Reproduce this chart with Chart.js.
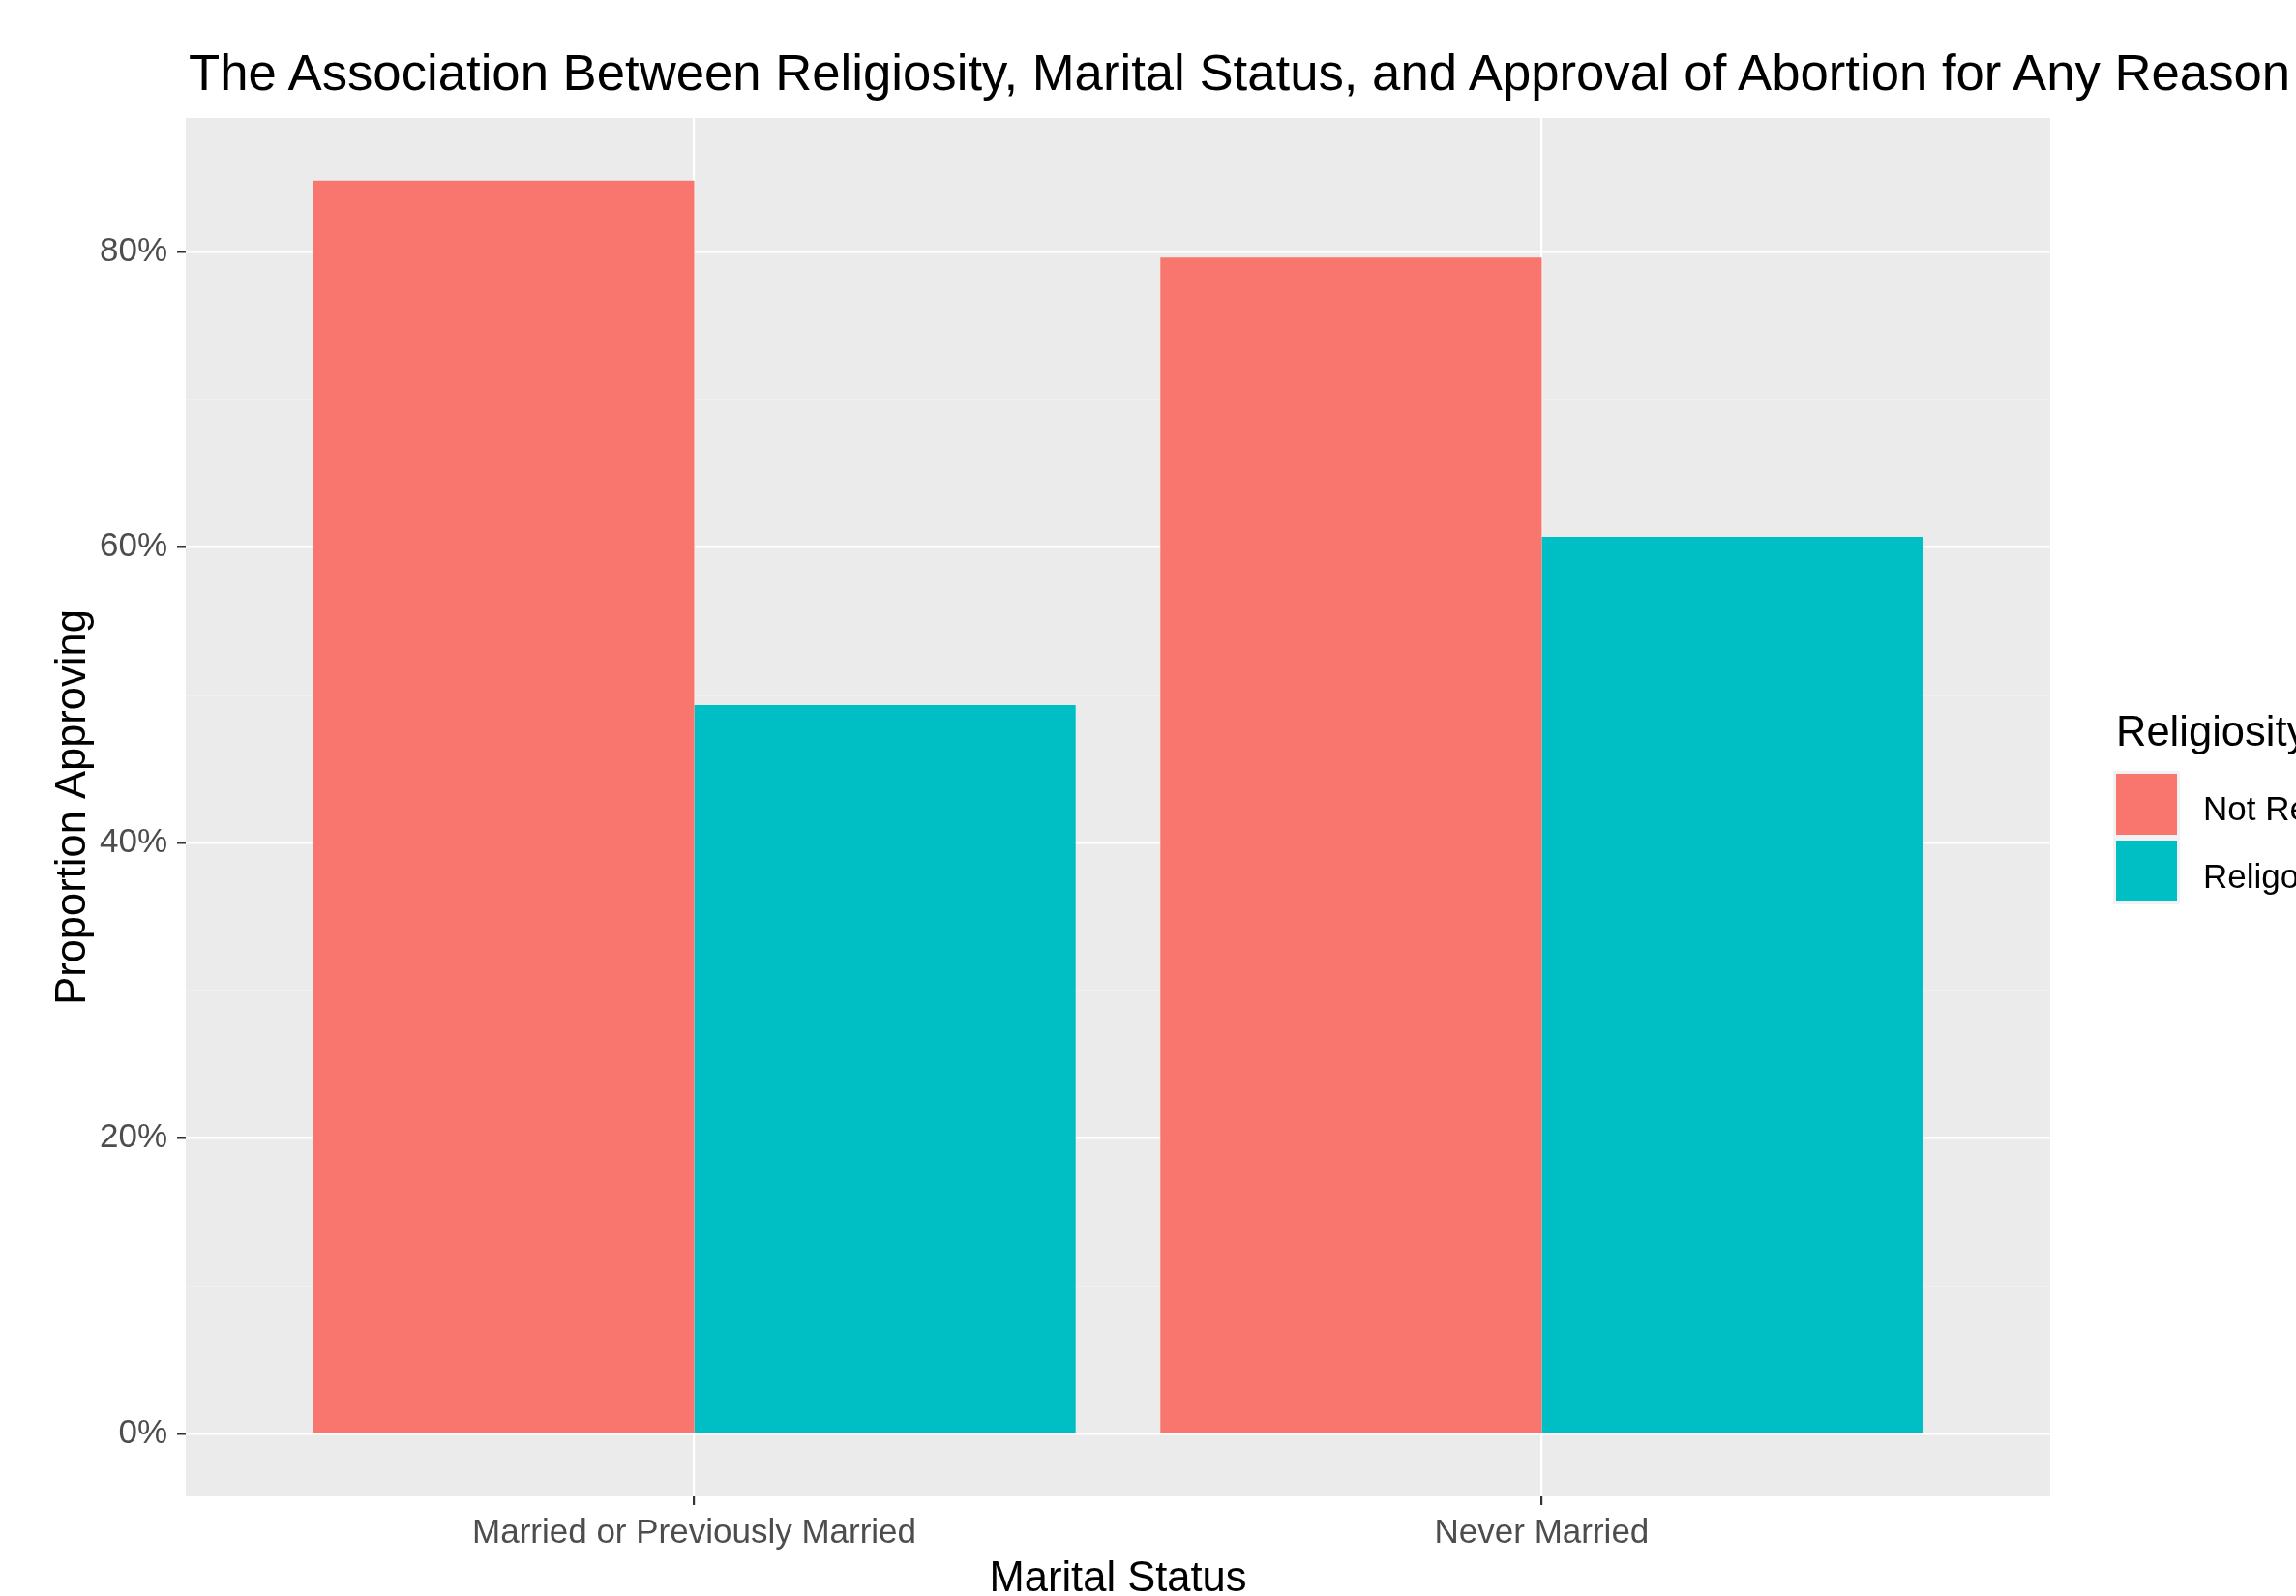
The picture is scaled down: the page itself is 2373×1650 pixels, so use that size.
<!DOCTYPE html>
<html><head><meta charset="utf-8">
<script src="https://cdn.jsdelivr.net/npm/chart.js@4.4.1/dist/chart.umd.min.js"></script>
<style>
html,body{margin:0;padding:0;background:#fff;overflow:hidden;width:2373px;height:1650px;}
#wrap{position:relative;width:2373px;height:1650px;overflow:hidden;}
canvas{position:absolute;left:0;top:0;}
.t{position:absolute;white-space:nowrap;font-family:"Liberation Sans",Arial,sans-serif;color:#000;}
.key{position:absolute;width:69px;height:69px;background:#F2F2F2;}
.key i{position:absolute;left:3px;top:3px;width:63px;height:63px;}
</style></head><body>
<div id="wrap">
<canvas id="c" width="2373" height="1650"></canvas>
<div id="title" class="t" style="left:195px;top:49px;font-size:52.7px;line-height:52px;"></div>
<div id="legend"></div>
</div>
<script>
const chartTitle = "The Association Between Religiosity, Marital Status, and Approval of Abortion for Any Reason";
const categories = ["Married or Previously Married", "Never Married"];
const seriesNames = ["Not Religous", "Religous"];
const notReligious = [84.8, 79.6];
const religious = [49.3, 60.7];
const yTicks = [0, 10, 20, 30, 40, 50, 60, 70, 80];
const xTitle = "Marital Status";
const yTitle = "Proportion Approving";
const legendTitle = "Religiosity";
const colors = ["#F8766D", "#00BFC4"];

const FONT = '"Liberation Sans", Arial, sans-serif';
document.getElementById('title').textContent = chartTitle;

const toPoints = vals => categories.map((c, i) => ({x: i + 1, y: vals[i]}));
const seriesValues = [notReligious, religious];

const bgPlugin = {
  id: 'panelBg',
  beforeDraw(chart) {
    const a = chart.chartArea, ctx = chart.ctx;
    ctx.save();
    ctx.fillStyle = '#EBEBEB';
    ctx.fillRect(a.left, a.top, a.right - a.left, a.bottom - a.top);
    ctx.restore();
  }
};

const isMajor = c => c.tick && c.tick.value % 20 === 0;

new Chart(document.getElementById('c'), {
  type: 'bar',
  data: {
    datasets: seriesNames.map((n, k) => ({
      label: n, data: toPoints(seriesValues[k]), backgroundColor: colors[k], borderWidth: 0,
      categoryPercentage: 0.9, barPercentage: 1.0
    }))
  },
  plugins: [bgPlugin],
  options: {
    responsive: false, animation: false,
    layout: {padding: {left: 0, top: 122, right: 254, bottom: 0}},
    plugins: {legend: {display: false}, title: {display: false}, tooltip: {enabled: false}},
    scales: {
      x: {
        type: 'linear', min: 0.4, max: 2.6, offset: false,
        afterBuildTicks: s => { s.ticks = categories.map((c, i) => ({value: i + 1})); },
        afterFit: s => { s.height = 103; },
        grid: {offset: false, color: '#FFFFFF', lineWidth: 2.2, tickColor: '#333333', tickLength: 9, tickWidth: 2.2},
        border: {display: false},
        ticks: {autoSkip: false, maxRotation: 0, color: '#4D4D4D', font: {family: FONT, size: 35}, padding: 8,
                callback: v => categories[Math.round(v) - 1] ?? ''},
        title: {display: true, text: xTitle, color: '#000', font: {family: FONT, size: 43.5, lineHeight: 0.8}, padding: {top: 0, bottom: 0}}
      },
      y: {
        type: 'linear', min: -4.24, max: 89.04,
        afterBuildTicks: s => { s.ticks = yTicks.map(v => ({value: v})); },
        afterFit: s => { s.width = 192; },
        grid: {color: '#FFFFFF', lineWidth: c => isMajor(c) ? 2.5 : 1.3,
               tickColor: c => isMajor(c) ? '#333333' : 'rgba(0,0,0,0)', tickLength: 9, tickWidth: 2.5},
        border: {display: false},
        ticks: {autoSkip: false, color: '#4D4D4D', font: {family: FONT, size: 35}, padding: 10,
                callback: v => v % 20 === 0 ? v + '%' : ''},
        title: {display: true, text: yTitle, color: '#000', font: {family: FONT, size: 43.5}, padding: {top: 50, bottom: 0}}
      }
    }
  }
});

// legend (HTML)
const leg = document.getElementById('legend');
const lt = document.createElement('div');
lt.className = 't';
lt.style.cssText = 'left:2187px;top:735px;font-size:43.5px;line-height:43.5px;';
lt.textContent = legendTitle;
leg.appendChild(lt);
seriesNames.forEach((n, k) => {
  const key = document.createElement('div');
  key.className = 'key';
  key.style.left = '2184px';
  key.style.top = (797 + k * 69) + 'px';
  const f = document.createElement('i');
  f.style.background = colors[k];
  key.appendChild(f);
  leg.appendChild(key);
  const lab = document.createElement('div');
  lab.className = 't';
  lab.style.cssText = 'left:2277px;font-size:35px;line-height:35px;top:' + (818 + k * 70) + 'px;';
  lab.textContent = n;
  leg.appendChild(lab);
});
</script>
</body></html>
